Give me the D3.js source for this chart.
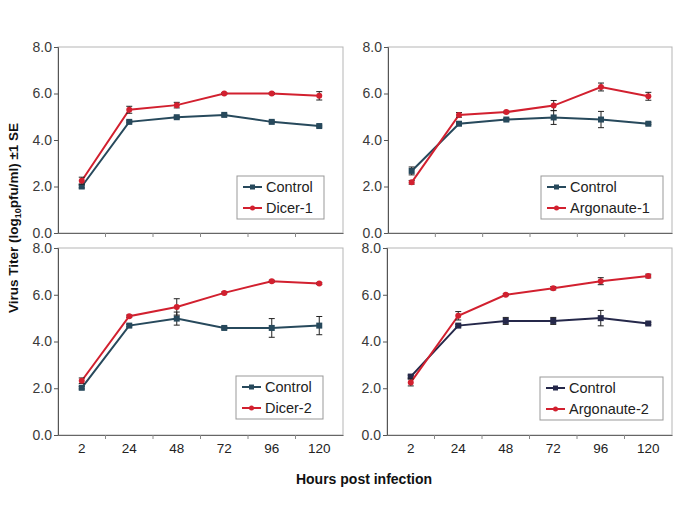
<!DOCTYPE html>
<html>
<head>
<meta charset="utf-8">
<script src="https://cdn.jsdelivr.net/npm/d3@7"></script>
<style>
  body { margin: 0; background: #fff; }
  text { font-family: "Liberation Sans", Arial, sans-serif; }
</style>
</head>
<body>
<div id="chart"></div>
<script>
// data
const hours = ['2', '24', '48', '72', '96', '120'];
const yTicks = [0, 2, 4, 6, 8];
const treatments = ['Dicer-1', 'Argonaute-1', 'Dicer-2', 'Argonaute-2'];

const controlMean = [
    [2.0, 4.78, 4.98, 5.08, 4.78, 4.6],
    [2.67, 4.7, 4.88, 4.97, 4.88, 4.7],
    [2.02, 4.68, 4.98, 4.58, 4.58, 4.68],
    [2.5, 4.68, 4.88, 4.88, 5.0, 4.77]
];
const controlSE = [
    [0.06, 0.04, 0.04, 0.04, 0.04, 0.04],
    [0.17, 0.05, 0.05, 0.3, 0.35, 0.04],
    [0.05, 0.05, 0.28, 0.05, 0.4, 0.39],
    [0.06, 0.05, 0.15, 0.15, 0.33, 0.05]
];
const treatMean = [
    [2.25, 5.3, 5.5, 6.0, 6.0, 5.9],
    [2.18, 5.08, 5.2, 5.48, 6.28, 5.88],
    [2.32, 5.08, 5.48, 6.08, 6.58, 6.48],
    [2.25, 5.1, 6.0, 6.28, 6.58, 6.8]
];
const treatSE = [
    [0.15, 0.15, 0.12, 0.04, 0.04, 0.18],
    [0.08, 0.1, 0.04, 0.22, 0.17, 0.17],
    [0.12, 0.05, 0.35, 0.04, 0.04, 0.04],
    [0.15, 0.18, 0.04, 0.07, 0.15, 0.08]
];

// layout
const panels = [
    {x0: 58, x1: 343, y0: 47, y1: 233, lx: 237, ly: 176, lw: 87, ctl: '#27495c', xlabels: false},
    {x0: 388, x1: 672, y0: 47, y1: 233, lx: 541, ly: 176, lw: 122, ctl: '#27495c', xlabels: false},
    {x0: 58, x1: 343, y0: 248, y1: 435, lx: 236, ly: 376, lw: 87, ctl: '#27495c', xlabels: true},
    {x0: 387, x1: 672, y0: 248, y1: 435, lx: 540, ly: 377, lw: 123, ctl: '#25284a', xlabels: true}
];
const red = '#d2202f';

const svg = d3.select('#chart').append('svg')
    .attr('width', 685).attr('height', 513);

function drawSeries(g, x, y, means, se, color, marker) {
    const line = d3.line()
        .x((d, i) => x(hours[i]) + x.bandwidth() / 2)
        .y(d => y(d));
    g.append('path').datum(means)
        .attr('d', line)
        .attr('fill', 'none')
        .attr('stroke', color)
        .attr('stroke-width', 2);

    // error bars
    means.forEach((m, i) => {
        const cx = x(hours[i]) + x.bandwidth() / 2;
        const top = y(m + se[i]), bot = y(m - se[i]);
        g.append('path')
            .attr('d', 'M' + cx + ',' + top + 'V' + bot +
                       'M' + (cx - 3) + ',' + top + 'H' + (cx + 3) +
                       'M' + (cx - 3) + ',' + bot + 'H' + (cx + 3))
            .attr('stroke', '#222')
            .attr('stroke-width', 1)
            .attr('fill', 'none');
    });

    means.forEach((m, i) => {
        const cx = x(hours[i]) + x.bandwidth() / 2;
        if (marker === 'square') {
            g.append('rect')
                .attr('x', cx - 3).attr('y', y(m) - 3)
                .attr('width', 6).attr('height', 6)
                .attr('fill', color);
        } else {
            g.append('circle')
                .attr('cx', cx).attr('cy', y(m)).attr('r', 3)
                .attr('fill', color);
        }
    });
}

panels.forEach((p, k) => {
    const x = d3.scaleBand().domain(hours).range([p.x0, p.x1]);
    const y = d3.scaleLinear().domain([0, 8]).range([p.y1, p.y0]);
    const g = svg.append('g');

    // frame (top/right light)
    g.append('rect')
        .attr('x', p.x0).attr('y', p.y0)
        .attr('width', p.x1 - p.x0).attr('height', p.y1 - p.y0)
        .attr('fill', 'none').attr('stroke', '#b5b5b5').attr('stroke-width', 1);

    const yAxis = g.append('g')
        .attr('transform', 'translate(' + p.x0 + ',0)')
        .call(d3.axisLeft(y).tickValues(yTicks).tickFormat(d3.format('.1f')).tickSize(4).tickPadding(2));
    yAxis.select('.domain').attr('stroke', '#555');
    yAxis.selectAll('.tick line').attr('stroke', '#555');
    yAxis.selectAll('text').attr('font-size', 14).attr('fill', '#3a3a3a')
        .style('font-family', '"Liberation Sans", Arial, sans-serif');

    const xAxis = g.append('g')
        .attr('transform', 'translate(0,' + p.y1 + ')')
        .call(d3.axisBottom(x).tickSize(0).tickPadding(8).tickFormat(p.xlabels ? (d => d) : () => ''));
    xAxis.select('.domain').attr('stroke', '#666');
    xAxis.selectAll('text').attr('font-size', 13.5).attr('fill', '#222')
        .style('font-family', '"Liberation Sans", Arial, sans-serif');
    // ticks between categories
    hours.slice(1).forEach(h => {
        g.append('line')
            .attr('x1', x(h)).attr('x2', x(h))
            .attr('y1', p.y1).attr('y2', p.y1 + 4)
            .attr('stroke', '#888');
    });

    drawSeries(g, x, y, controlMean[k], controlSE[k], p.ctl, 'square');
    drawSeries(g, x, y, treatMean[k], treatSE[k], red, 'circle');

    // legend
    const lg = g.append('g').attr('transform', 'translate(' + p.lx + ',' + p.ly + ')');
    lg.append('rect')
        .attr('width', p.lw).attr('height', 43)
        .attr('fill', '#fff').attr('stroke', '#999');
    [['Control', p.ctl, 'square'], [treatments[k], red, 'circle']].forEach((it, j) => {
        const yy = 11 + j * 21;
        lg.append('line')
            .attr('x1', 6).attr('x2', 25).attr('y1', yy).attr('y2', yy)
            .attr('stroke', it[1]).attr('stroke-width', 2);
        if (it[2] === 'square') {
            lg.append('rect').attr('x', 13).attr('y', yy - 2.5).attr('width', 5).attr('height', 5).attr('fill', it[1]);
        } else {
            lg.append('circle').attr('cx', 15.5).attr('cy', yy).attr('r', 2.5).attr('fill', it[1]);
        }
        lg.append('text')
            .attr('x', 29).attr('y', yy + 5)
            .attr('font-size', 14.5).attr('fill', '#222')
            .text(it[0]);
    });
});

// axis titles
svg.append('text')
    .attr('transform', 'translate(18,218) rotate(-90)')
    .attr('text-anchor', 'middle')
    .attr('font-size', 13.5).attr('font-weight', 'bold').attr('fill', '#111')
    .call(t => {
        t.append('tspan').text('Virus Titer (log');
        t.append('tspan').attr('font-size', 9).attr('dy', 3).text('10');
        t.append('tspan').attr('dy', -3).text('pfu/ml) \u00b11 SE');
    });

svg.append('text')
    .attr('x', 364).attr('y', 484)
    .attr('text-anchor', 'middle')
    .attr('font-size', 14).attr('font-weight', 'bold').attr('fill', '#111')
    .text('Hours post infection');
</script>
</body>
</html>
